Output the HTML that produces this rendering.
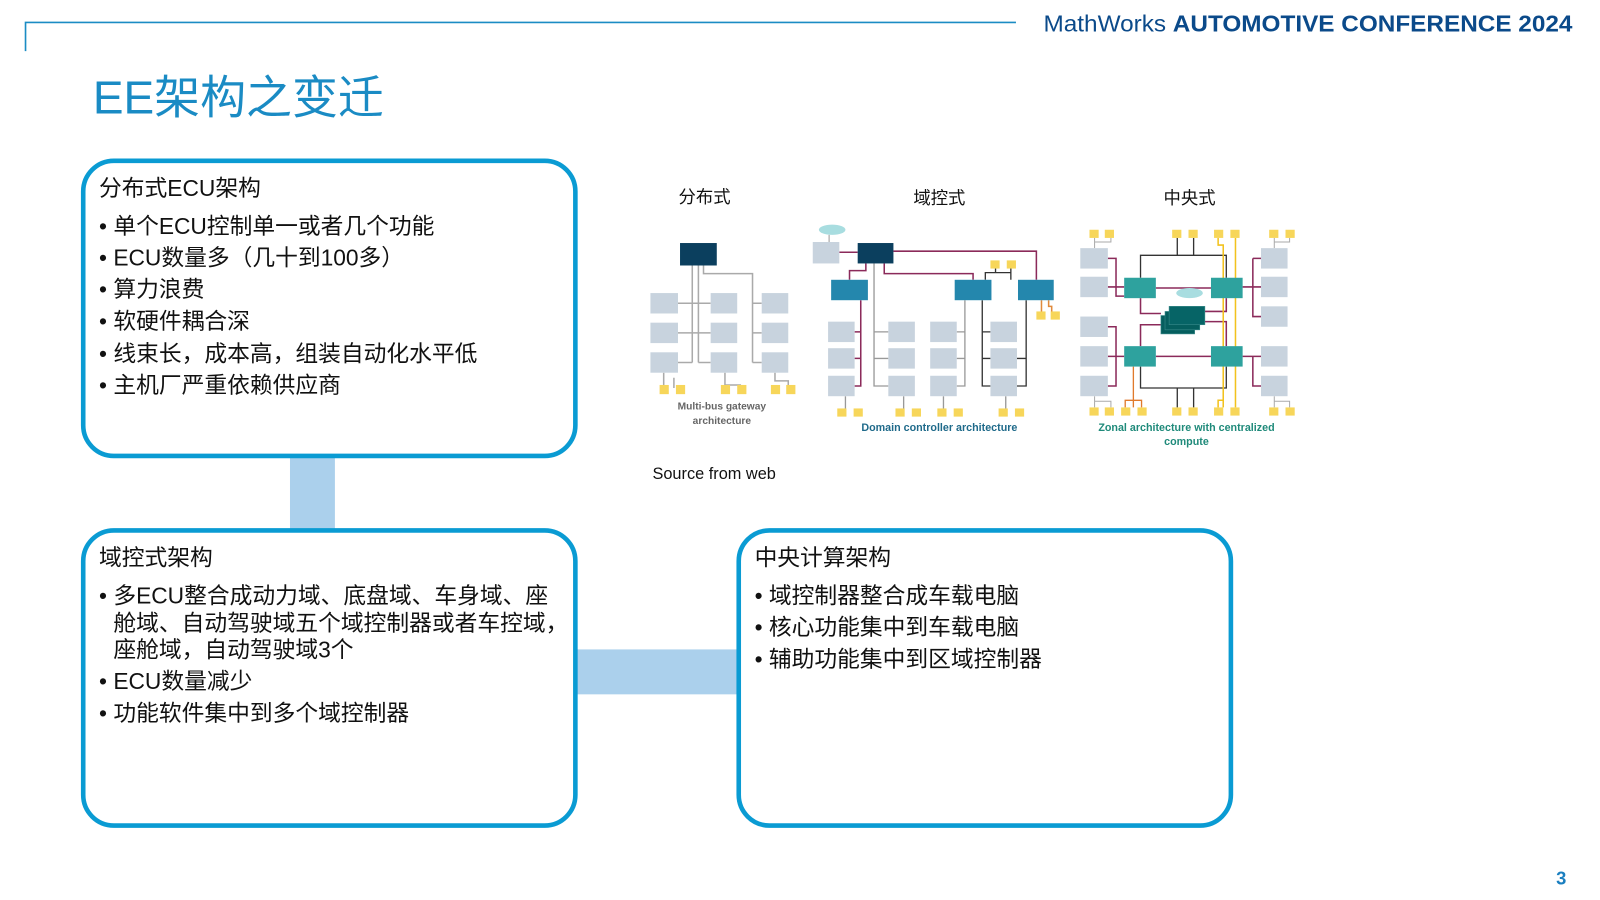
<!DOCTYPE html>
<html><head><meta charset="utf-8"><style>
html,body{margin:0;padding:0;background:#fff;width:1600px;height:900px;overflow:hidden}
svg{display:block}
.cn{font-family:"Liberation Sans","Noto Sans CJK SC",sans-serif}
</style></head><body>
<svg width="1600" height="900" viewBox="0 0 1567 881.4" xmlns="http://www.w3.org/2000/svg" class="cn">
<!-- header -->
<path d="M25 50 V22 H995" stroke="#1b8cc4" stroke-width="1.6" fill="none"/>
<text x="1022" y="31" font-size="23" fill="#0b4a8a" textLength="518" lengthAdjust="spacingAndGlyphs"><tspan>MathWorks </tspan><tspan font-weight="bold">AUTOMOTIVE CONFERENCE 2024</tspan></text>
<text x="91" y="111" font-size="45" fill="#1a8bc4">EE架构之变迁</text>
<text x="1534" y="866" font-size="18" font-weight="bold" fill="#1a7fc0" text-anchor="end">3</text>

<!-- connectors -->
<rect x="284" y="446" width="44" height="75" fill="#abd0ec"/>
<rect x="562" y="636" width="162" height="44" fill="#abd0ec"/>

<!-- boxes -->
<g fill="#fff" stroke="#0a9bd3" stroke-width="4.5">
<rect x="81.5" y="157.5" width="482" height="289" rx="30"/>
<rect x="81.5" y="519.5" width="482" height="289" rx="30"/>
<rect x="723.5" y="519.5" width="482" height="289" rx="30"/>
</g>
<g font-size="22.3" fill="#111">
<text x="97" y="192">分布式ECU架构</text>
<text x="97" y="229">• 单个ECU控制单一或者几个功能</text>
<text x="97" y="260">• ECU数量多（几十到100多）</text>
<text x="97" y="291">• 算力浪费</text>
<text x="97" y="322">• 软硬件耦合深</text>
<text x="97" y="354">• 线束长，成本高，组装自动化水平低</text>
<text x="97" y="385">• 主机厂严重依赖供应商</text>

<text x="97" y="554">域控式架构</text>
<text x="97" y="591">• 多ECU整合成动力域、底盘域、车身域、座</text>
<text x="111" y="618">舱域、自动驾驶域五个域控制器或者车控域，</text>
<text x="111" y="644">座舱域，自动驾驶域3个</text>
<text x="97" y="675">• ECU数量减少</text>
<text x="97" y="706">• 功能软件集中到多个域控制器</text>

<text x="739" y="554">中央计算架构</text>
<text x="739" y="591">• 域控制器整合成车载电脑</text>
<text x="739" y="622">• 核心功能集中到车载电脑</text>
<text x="739" y="653">• 辅助功能集中到区域控制器</text>
</g>

<!-- diagram labels -->
<g font-size="17" fill="#111" text-anchor="middle">
<text x="690" y="199">分布式</text>
<text x="920" y="200">域控式</text>
<text x="1165" y="200">中央式</text>
</g>
<text x="639" y="469" font-size="16" fill="#111" font-family="Liberation Sans,sans-serif">Source from web</text>

<!-- Distributed -->
<g>
<g stroke="#aaa" stroke-width="1.5" fill="none">
<path d="M678 260 V355 M684 260 V355 M689 260 V268 H737 V355"/>
<path d="M664 297 H696 M664 326 H696 M664 355 H678 M684 355 H696 M737 297 H746 M737 326 H746 M737 355 H746"/>
<path d="M650 365 V380 M660 370 V380 M710 365 V377 H725 V380 M759 365 V373 H772 V380"/>
</g>
<rect x="666" y="238" width="36" height="22" fill="#0b3f5e"/>
<g fill="#c8d3de">
<rect x="637" y="287" width="27" height="20"/><rect x="696" y="287" width="26" height="20"/><rect x="746" y="287" width="26" height="20"/>
<rect x="637" y="316" width="27" height="20"/><rect x="696" y="316" width="26" height="20"/><rect x="746" y="316" width="26" height="20"/>
<rect x="637" y="345" width="27" height="20"/><rect x="696" y="345" width="26" height="20"/><rect x="746" y="345" width="26" height="20"/>
</g>
<g fill="#f7d65a">
<rect x="646" y="377" width="9" height="9"/><rect x="662" y="377" width="9" height="9"/>
<rect x="706" y="377" width="9" height="9"/><rect x="722" y="377" width="9" height="9"/>
<rect x="755" y="377" width="9" height="9"/><rect x="770" y="377" width="9" height="9"/>
</g>
<text x="707" y="401" font-size="10" font-weight="bold" fill="#666" text-anchor="middle" font-family="Liberation Sans,sans-serif">Multi-bus gateway</text>
<text x="707" y="415" font-size="10" font-weight="bold" fill="#666" text-anchor="middle" font-family="Liberation Sans,sans-serif">architecture</text>
</g>

<!-- Domain -->
<g>
<ellipse cx="815" cy="225" rx="13" ry="5" fill="#a8dde0"/>
<path d="M812 230 V237" stroke="#999"/>
<g stroke="#8b2a5a" stroke-width="1.5" fill="none">
<path d="M822 247 H840 M875 246 H1015 V274 M848 258 V265 H832 V274 M866 258 V268 H953 V274"/>
<path d="M843 294 V378 H837 M843 325 H837 M843 351 H837"/>
</g>
<g stroke="#999" stroke-width="1.3" fill="none">
<path d="M856 258 V378 H870 M856 325 H870 M856 351 H870 M945 294 V378 H937 M945 325 H937 M945 351 H937"/>
<path d="M828 388 V400 M885 388 V400 M924 388 V400 M985 388 V400"/>
</g>
<g stroke="#333" stroke-width="1.3" fill="none">
<path d="M962 294 V378 H970 M962 325 H970 M962 351 H970 M1005 294 V378 H996 M1005 351 H996 M965 274 V267 H990 V274 M975 267 V262 M990 267 V262"/>
</g>
<path d="M1020 294 V305 M1027 294 V300 H1030 V305" stroke="#e08a3c" stroke-width="1.5" fill="none"/>
<rect x="796" y="237" width="26" height="21" fill="#c8d3de"/>
<rect x="840" y="238" width="35" height="20" fill="#0b3f5e"/>
<g fill="#2487ad">
<rect x="814" y="274" width="36" height="20"/><rect x="935" y="274" width="36" height="20"/><rect x="997" y="274" width="35" height="20"/>
</g>
<g fill="#c8d3de">
<rect x="811" y="315" width="26" height="20"/><rect x="870" y="315" width="26" height="20"/><rect x="911" y="315" width="26" height="20"/><rect x="970" y="315" width="26" height="20"/>
<rect x="811" y="341" width="26" height="20"/><rect x="870" y="341" width="26" height="20"/><rect x="911" y="341" width="26" height="20"/><rect x="970" y="341" width="26" height="20"/>
<rect x="811" y="368" width="26" height="20"/><rect x="870" y="368" width="26" height="20"/><rect x="911" y="368" width="26" height="20"/><rect x="970" y="368" width="26" height="20"/>
</g>
<g fill="#f7d65a">
<rect x="820" y="400" width="9" height="8"/><rect x="836" y="400" width="9" height="8"/>
<rect x="877" y="400" width="9" height="8"/><rect x="893" y="400" width="9" height="8"/>
<rect x="918" y="400" width="9" height="8"/><rect x="934" y="400" width="9" height="8"/>
<rect x="978" y="400" width="9" height="8"/><rect x="994" y="400" width="9" height="8"/>
<rect x="970" y="255" width="9" height="8"/><rect x="986" y="255" width="9" height="8"/>
<rect x="1015" y="305" width="9" height="8"/><rect x="1029" y="305" width="9" height="8"/>
</g>
<text x="920" y="422" font-size="10.5" font-weight="bold" fill="#1f6a8a" text-anchor="middle" font-family="Liberation Sans,sans-serif">Domain controller architecture</text>
</g>

<!-- Zonal -->
<g>
<g stroke="#8b2a5a" stroke-width="1.5" fill="none">
<path d="M1085 253 H1093 V290 H1101 M1085 281 H1101 M1217 281 H1235 M1227 253 H1235 M1227 253 V310 H1235"/>
<path d="M1085 320 H1093 V368 M1085 349 H1101 M1085 378 H1093 V368 M1217 349 H1235 M1227 349 V378 H1235"/>
<path d="M1132 282 H1186 M1132 349 H1186 M1117 292 V307 H1137 M1201 292 V305 H1180 M1117 339 V318 H1137 M1201 339 V315 H1180"/>
</g>
<g stroke="#333" stroke-width="1.3" fill="none">
<path d="M1117 272 V250 H1201 V272 M1153 250 V233 M1169 250 V233 M1117 359 V380 H1201 V359 M1153 380 V399 M1169 380 V399"/>
</g>
<g stroke="#f2c21d" stroke-width="1.5" fill="none">
<path d="M1193 233 V240 H1198 V399 M1210 233 V399 M1193 399 V392 H1198"/>
</g>
<path d="M1110 359 V399 M1102 399 V392 H1118 V399" stroke="#e07a2c" stroke-width="1.3" fill="none"/>
<g stroke="#aaa" fill="none"><path d="M1072 233 V243 M1072 237 H1088 V233 M1248 233 V243 M1248 237 H1263 V233 M1072 388 V399 M1072 393 H1088 V399 M1248 388 V399 M1248 393 H1263 V399"/></g>
<g fill="#c8d3de">
<rect x="1058" y="243" width="27" height="20"/><rect x="1058" y="271" width="27" height="20"/><rect x="1058" y="310" width="27" height="20"/><rect x="1058" y="339" width="27" height="20"/><rect x="1058" y="368" width="27" height="20"/>
<rect x="1235" y="243" width="26" height="20"/><rect x="1235" y="271" width="26" height="20"/><rect x="1235" y="300" width="26" height="20"/><rect x="1235" y="339" width="26" height="20"/><rect x="1235" y="368" width="26" height="20"/>
</g>
<g fill="#2ea29e">
<rect x="1101" y="272" width="31" height="20"/><rect x="1186" y="272" width="31" height="20"/>
<rect x="1101" y="339" width="31" height="20"/><rect x="1186" y="339" width="31" height="20"/>
</g>
<rect x="1137" y="309" width="33" height="18" fill="#055e5e" stroke="#3a8a8a" stroke-width="0.6"/>
<rect x="1141" y="305" width="34" height="18" fill="#055e5e" stroke="#3a8a8a" stroke-width="0.6"/>
<rect x="1145" y="300" width="35" height="18" fill="#066466" stroke="#3a8a8a" stroke-width="0.6"/>
<ellipse cx="1165" cy="287" rx="13" ry="5" fill="#a8dde0"/>
<g fill="#f7d65a">
<rect x="1067" y="225" width="9" height="8"/><rect x="1082" y="225" width="9" height="8"/>
<rect x="1148" y="225" width="9" height="8"/><rect x="1164" y="225" width="9" height="8"/>
<rect x="1189" y="225" width="9" height="8"/><rect x="1205" y="225" width="9" height="8"/>
<rect x="1243" y="225" width="9" height="8"/><rect x="1259" y="225" width="9" height="8"/>
<rect x="1067" y="399" width="9" height="8"/><rect x="1082" y="399" width="9" height="8"/>
<rect x="1098" y="399" width="9" height="8"/><rect x="1114" y="399" width="9" height="8"/>
<rect x="1148" y="399" width="9" height="8"/><rect x="1164" y="399" width="9" height="8"/>
<rect x="1189" y="399" width="9" height="8"/><rect x="1205" y="399" width="9" height="8"/>
<rect x="1243" y="399" width="9" height="8"/><rect x="1259" y="399" width="9" height="8"/>
</g>
<text x="1162" y="422" font-size="10.5" font-weight="bold" fill="#1f8a7a" text-anchor="middle" font-family="Liberation Sans,sans-serif">Zonal architecture with centralized</text>
<text x="1162" y="436" font-size="10.5" font-weight="bold" fill="#1f8a7a" text-anchor="middle" font-family="Liberation Sans,sans-serif">compute</text>
</g>
</svg>
</body></html>
